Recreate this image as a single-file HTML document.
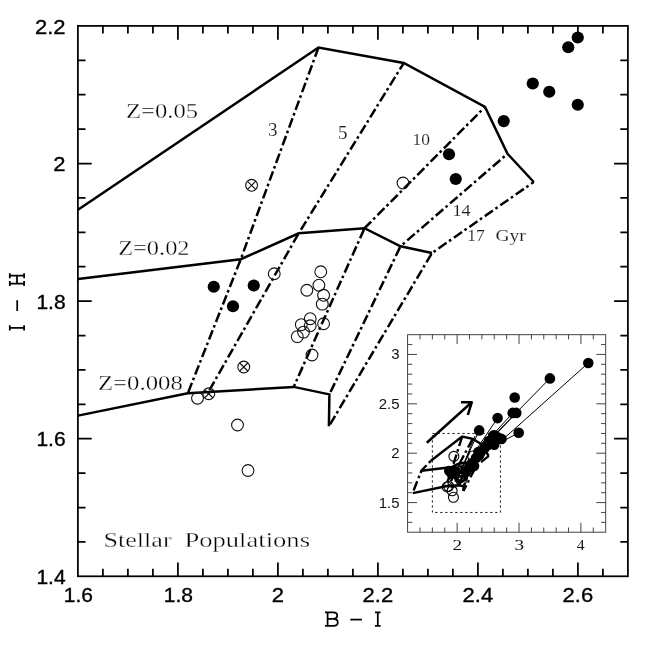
<!DOCTYPE html>
<html><head><meta charset="utf-8"><title>Stellar Populations</title>
<style>
html,body{margin:0;padding:0;background:#fff;}
body{width:664px;height:657px;overflow:hidden;font-family:"Liberation Sans",sans-serif;}
svg{display:block;filter:grayscale(1);}
.tl{font-family:"Liberation Sans",sans-serif;font-size:20px;fill:#000;stroke:#000;stroke-width:0.35px;}
.sf{font-family:"Liberation Serif",serif;fill:#000;stroke:#fff;stroke-width:0.35px;}
.ss{font-family:"Liberation Serif",serif;fill:#1c1c1c;stroke:#fff;stroke-width:0.12px;}
.il{font-family:"Liberation Serif",serif;fill:#111;font-size:14.5px;}
.is{font-family:"Liberation Sans",sans-serif;fill:#111;font-size:14px;}
</style></head><body>
<svg width="664" height="657" viewBox="0 0 664 657">
<rect x="0" y="0" width="664" height="657" fill="#fff"/>

<g stroke="#000" stroke-width="1.75" fill="none" stroke-linecap="butt">
<rect x="77.9" y="25.9" width="550" height="550.4"/>
<path d="M102.90 25.90v7.60M102.90 576.30v-7.60M127.90 25.90v7.60M127.90 576.30v-7.60M152.90 25.90v7.60M152.90 576.30v-7.60M177.90 25.90v13.80M177.90 576.30v-13.80M202.90 25.90v7.60M202.90 576.30v-7.60M227.90 25.90v7.60M227.90 576.30v-7.60M252.90 25.90v7.60M252.90 576.30v-7.60M277.90 25.90v13.80M277.90 576.30v-13.80M302.90 25.90v7.60M302.90 576.30v-7.60M327.90 25.90v7.60M327.90 576.30v-7.60M352.90 25.90v7.60M352.90 576.30v-7.60M377.90 25.90v13.80M377.90 576.30v-13.80M402.90 25.90v7.60M402.90 576.30v-7.60M427.90 25.90v7.60M427.90 576.30v-7.60M452.90 25.90v7.60M452.90 576.30v-7.60M477.90 25.90v13.80M477.90 576.30v-13.80M502.90 25.90v7.60M502.90 576.30v-7.60M527.90 25.90v7.60M527.90 576.30v-7.60M552.90 25.90v7.60M552.90 576.30v-7.60M577.90 25.90v13.80M577.90 576.30v-13.80M602.90 25.90v7.60M602.90 576.30v-7.60M77.90 541.90h7.60M627.90 541.90h-7.60M77.90 507.50h7.60M627.90 507.50h-7.60M77.90 473.10h7.60M627.90 473.10h-7.60M77.90 438.70h13.80M627.90 438.70h-13.80M77.90 404.30h7.60M627.90 404.30h-7.60M77.90 369.90h7.60M627.90 369.90h-7.60M77.90 335.50h7.60M627.90 335.50h-7.60M77.90 301.10h13.80M627.90 301.10h-13.80M77.90 266.70h7.60M627.90 266.70h-7.60M77.90 232.30h7.60M627.90 232.30h-7.60M77.90 197.90h7.60M627.90 197.90h-7.60M77.90 163.50h13.80M627.90 163.50h-13.80M77.90 129.10h7.60M627.90 129.10h-7.60M77.90 94.70h7.60M627.90 94.70h-7.60M77.90 60.30h7.60M627.90 60.30h-7.60"/>
</g>
<g class="tl" text-anchor="middle">
<text transform="translate(78.4 601.5) scale(1.05 1)">1.6</text>
<text transform="translate(178.4 601.5) scale(1.05 1)">1.8</text>
<text transform="translate(277.9 601.5) scale(1.1 1)">2</text>
<text transform="translate(377.9 601.5) scale(1.1 1)">2.2</text>
<text transform="translate(477.9 601.5) scale(1.1 1)">2.4</text>
<text transform="translate(577.9 601.5) scale(1.1 1)">2.6</text>
</g><g class="tl" text-anchor="end">
<text transform="translate(65.6 584.0) scale(1.05 1)">1.4</text>
<text transform="translate(65.6 446.4) scale(1.05 1)">1.6</text>
<text transform="translate(65.6 308.8) scale(1.05 1)">1.8</text>
<text transform="translate(65.6 171.2) scale(1.1 1)">2</text>
<text transform="translate(65.6 33.6) scale(1.1 1)">2.2</text>
</g>
<g stroke="#000" stroke-width="1.75" fill="none" stroke-linecap="butt" stroke-linejoin="round">
<path d="M325 612.4h8.2c2.6 0 4 1.4 4 3.2c0 1.9 -1.5 3.3 -4 3.3h-5.6M333.2 618.9c3 0 4.6 1.5 4.6 3.5c0 2 -1.6 3.4 -4.6 3.4h-8.2M327.6 612.4v13.4"/>
<path d="M350.3 619.6h11.6"/>
<path d="M375 612.4h5.6M375 625.8h5.6M377.8 612.4v13.4"/>
<path d="M9.8 325.2v5.2M24.1 325.2v5.2M9.8 327.8h14.3"/>
<path d="M17.2 300.2v10.8"/>
<path d="M9.8 273.2v5M24.1 273.2v5M9.8 281v5M24.1 281v5M9.8 275.7h14.3M9.8 283.5h14.3M17 275.7v7.8"/>
</g>
<!-- main data -->
<g fill="none" stroke="#000" stroke-width="2.5" stroke-linejoin="miter" stroke-linecap="butt">
<polyline points="78.00,209.80 318.50,47.50 403.75,63.00 485.00,107.00 507.50,153.75 533.75,182.00"/>
<polyline points="78.00,279.10 240.75,259.25 298.75,233.25 364.50,228.25 400.50,246.25 432.00,253.00"/>
<polyline points="78.00,415.60 187.80,393.30 293.70,386.90 329.40,394.40 328.90,426.30"/>
</g>
<g fill="none" stroke="#000" stroke-width="2.5" stroke-dasharray="9.9 3.35 2.6 3.0">
<line x1="318.50" y1="47.50" x2="240.75" y2="259.25" stroke-dashoffset="0.00"/>
<line x1="240.75" y1="259.25" x2="187.80" y2="393.30" stroke-dashoffset="17.85"/>
<line x1="403.75" y1="63.00" x2="298.75" y2="233.25" stroke-dashoffset="2.50"/>
<line x1="298.75" y1="233.25" x2="207.50" y2="393.50" stroke-dashoffset="17.85"/>
<line x1="485.00" y1="107.00" x2="364.50" y2="228.25" stroke-dashoffset="8.15"/>
<line x1="364.50" y1="228.25" x2="293.70" y2="386.90" stroke-dashoffset="17.85"/>
<line x1="507.50" y1="153.75" x2="400.50" y2="246.25" stroke-dashoffset="9.35"/>
<line x1="400.50" y1="246.25" x2="329.40" y2="394.40" stroke-dashoffset="17.85"/>
<line x1="533.75" y1="182.00" x2="432.00" y2="253.00" stroke-dashoffset="6.80"/>
<line x1="432.00" y1="253.00" x2="328.90" y2="426.30" stroke-dashoffset="17.85"/>
</g>
<g fill="#000" stroke="none">
<circle cx="577.75" cy="37.50" r="6.1"/>
<circle cx="568.25" cy="47.25" r="6.1"/>
<circle cx="532.75" cy="83.50" r="6.1"/>
<circle cx="549.25" cy="91.75" r="6.1"/>
<circle cx="577.75" cy="104.75" r="6.1"/>
<circle cx="503.75" cy="121.10" r="6.1"/>
<circle cx="449.00" cy="154.25" r="6.1"/>
<circle cx="455.75" cy="179.00" r="6.1"/>
<circle cx="213.75" cy="286.75" r="6.1"/>
<circle cx="253.75" cy="285.50" r="6.1"/>
<circle cx="233.00" cy="306.25" r="6.1"/>
</g>
<g fill="none" stroke="#111" stroke-width="1.1">
<circle cx="403.00" cy="183.00" r="5.9"/>
<circle cx="274.25" cy="273.75" r="5.9"/>
<circle cx="320.75" cy="271.80" r="5.9"/>
<circle cx="318.90" cy="285.20" r="5.9"/>
<circle cx="306.85" cy="290.25" r="5.9"/>
<circle cx="323.60" cy="295.30" r="5.9"/>
<circle cx="322.30" cy="304.15" r="5.9"/>
<circle cx="310.20" cy="318.70" r="5.9"/>
<circle cx="323.60" cy="323.75" r="5.9"/>
<circle cx="301.30" cy="324.60" r="5.9"/>
<circle cx="310.20" cy="325.80" r="5.9"/>
<circle cx="303.50" cy="332.10" r="5.9"/>
<circle cx="297.30" cy="336.65" r="5.9"/>
<circle cx="312.00" cy="355.00" r="5.9"/>
<circle cx="197.50" cy="398.25" r="5.9"/>
<circle cx="237.50" cy="425.00" r="5.9"/>
<circle cx="248.00" cy="470.50" r="5.9"/>
<circle cx="251.60" cy="185.30" r="5.9"/>
<circle cx="243.75" cy="367.00" r="5.9"/>
<circle cx="208.75" cy="393.75" r="5.9"/>
<path d="M247.35 181.05l8.50 8.50M247.35 189.55l8.50 -8.50M239.50 362.75l8.50 8.50M239.50 371.25l8.50 -8.50M204.50 389.50l8.50 8.50M204.50 398.00l8.50 -8.50"/>
</g>
<text class="sf" x="126.0" y="118.2" font-size="21.4" textLength="72.2" lengthAdjust="spacingAndGlyphs">Z=0.05</text>
<text class="sf" x="118.2" y="255.2" font-size="21.4" textLength="71.4" lengthAdjust="spacingAndGlyphs">Z=0.02</text>
<text class="sf" x="98.0" y="390.2" font-size="21.4" textLength="84.8" lengthAdjust="spacingAndGlyphs">Z=0.008</text>
<text class="ss" x="268.0" y="136.3" font-size="18.5" textLength="9.5" lengthAdjust="spacingAndGlyphs">3</text>
<text class="ss" x="338.0" y="139.0" font-size="18.5" textLength="9.5" lengthAdjust="spacingAndGlyphs">5</text>
<text class="ss" x="412.6" y="144.8" font-size="17.4" textLength="17.4" lengthAdjust="spacingAndGlyphs">10</text>
<text class="ss" x="452.4" y="216.2" font-size="17.5" textLength="18.2" lengthAdjust="spacingAndGlyphs">14</text>
<text class="ss" x="467.3" y="240.6" font-size="17.5" textLength="17.4" lengthAdjust="spacingAndGlyphs">17</text>
<text class="ss" x="495.4" y="240.6" font-size="17.5" textLength="30.4" lengthAdjust="spacingAndGlyphs">Gyr</text>
<text class="sf" x="103.5" y="547.0" font-size="21.4" textLength="68.1" lengthAdjust="spacingAndGlyphs">Stellar</text>
<text class="sf" x="184.4" y="547.0" font-size="21.4" textLength="125.6" lengthAdjust="spacingAndGlyphs">Populations</text>
<!-- inset -->
<g stroke="#3a3a3a" stroke-width="0.95" fill="none">
<rect x="407.6" y="334.7" width="198.1" height="197.5"/>
<path d="M419.98 334.70v4.70M419.98 532.20v-4.70M432.36 334.70v4.70M432.36 532.20v-4.70M444.74 334.70v4.70M444.74 532.20v-4.70M457.12 334.70v9.40M457.12 532.20v-9.40M469.50 334.70v4.70M469.50 532.20v-4.70M481.88 334.70v4.70M481.88 532.20v-4.70M494.26 334.70v4.70M494.26 532.20v-4.70M506.64 334.70v4.70M506.64 532.20v-4.70M519.02 334.70v9.40M519.02 532.20v-9.40M531.40 334.70v4.70M531.40 532.20v-4.70M543.78 334.70v4.70M543.78 532.20v-4.70M556.16 334.70v4.70M556.16 532.20v-4.70M568.54 334.70v4.70M568.54 532.20v-4.70M580.92 334.70v9.40M580.92 532.20v-9.40M593.30 334.70v4.70M593.30 532.20v-4.70M407.60 522.33h4.70M605.70 522.33h-4.70M407.60 512.45h4.70M605.70 512.45h-4.70M407.60 502.58h9.40M605.70 502.58h-9.40M407.60 492.70h4.70M605.70 492.70h-4.70M407.60 482.83h4.70M605.70 482.83h-4.70M407.60 472.95h4.70M605.70 472.95h-4.70M407.60 463.08h4.70M605.70 463.08h-4.70M407.60 453.20h9.40M605.70 453.20h-9.40M407.60 443.32h4.70M605.70 443.32h-4.70M407.60 433.45h4.70M605.70 433.45h-4.70M407.60 423.58h4.70M605.70 423.58h-4.70M407.60 413.70h4.70M605.70 413.70h-4.70M407.60 403.82h9.40M605.70 403.82h-9.40M407.60 393.95h4.70M605.70 393.95h-4.70M407.60 384.07h4.70M605.70 384.07h-4.70M407.60 374.20h4.70M605.70 374.20h-4.70M407.60 364.32h4.70M605.70 364.32h-4.70M407.60 354.45h9.40M605.70 354.45h-9.40M407.60 344.57h4.70M605.70 344.57h-4.70"/>
</g>
<g class="il" text-anchor="middle">
<text transform="translate(457.3 550) scale(1.32 1)">2</text>
<text transform="translate(519.2 550) scale(1.32 1)">3</text>
<text transform="translate(580.6 550) scale(1.08 1)">4</text>
</g><g class="is" text-anchor="end">
<text transform="translate(399.6 507.6) scale(1.07 1)">1.5</text>
<text transform="translate(399.6 458.2) scale(1.07 1)">2</text>
<text transform="translate(399.6 408.8) scale(1.07 1)">2.5</text>
<text transform="translate(399.6 359.4) scale(1.07 1)">3</text>
</g>
<rect x="432.36" y="433.45" width="68.09" height="79.00" fill="none" stroke="#1a1a1a" stroke-width="0.95" stroke-dasharray="2.4 2.6"/>
<g fill="none" stroke="#000" stroke-width="2.4" stroke-linejoin="miter">
<polyline points="430.60,461.00 462.15,436.55 472.70,438.78 482.76,445.10 485.54,451.81 488.79,455.87"/>
<polyline points="421.40,470.70 452.52,466.97 459.70,463.23 467.84,462.51 472.30,465.10 476.20,466.07"/>
<polyline points="412.90,493.20 445.97,486.22 459.08,485.30 463.50,486.38 463.43,490.96"/>
</g>
<g fill="none" stroke="#000" stroke-width="2.4" stroke-dasharray="9.9 3.35 2.6 3.0">
<polyline points="413.60,490.50 421.40,470.70 430.60,461.00"/>
<polyline points="462.15,436.55 452.52,466.97 445.97,486.22"/>
<polyline points="472.70,438.78 459.70,463.23 448.40,486.25"/>
<polyline points="482.76,445.10 467.84,462.51 459.08,485.30"/>
<polyline points="485.54,451.81 472.30,465.10 463.50,486.38"/>
<polyline points="488.79,455.87 476.20,466.07 463.43,490.96"/>
</g>
<g stroke="#000" stroke-width="1" fill="none">
<line x1="588.3" y1="363.0" x2="494.4" y2="447.0"/>
<line x1="549.9" y1="378.4" x2="489.0" y2="440.5"/>
<line x1="512.7" y1="412.9" x2="490.0" y2="438.0"/>
<line x1="497.6" y1="418.1" x2="476.0" y2="450.0"/>
<line x1="479.2" y1="430.4" x2="461.0" y2="470.0"/>
<line x1="518.7" y1="432.8" x2="490.0" y2="448.0"/>
<line x1="516.3" y1="412.9" x2="484.0" y2="447.0"/>
<line x1="475.0" y1="436.0" x2="458.0" y2="478.0"/>
<line x1="470.0" y1="452.0" x2="455.0" y2="482.0"/>
</g>
<g fill="#000">
<circle cx="494.24" cy="435.12" r="5.2"/>
<circle cx="493.07" cy="436.52" r="5.2"/>
<circle cx="488.67" cy="441.72" r="5.2"/>
<circle cx="490.71" cy="442.91" r="5.2"/>
<circle cx="494.24" cy="444.78" r="5.2"/>
<circle cx="485.08" cy="447.12" r="5.2"/>
<circle cx="478.30" cy="451.89" r="5.2"/>
<circle cx="479.14" cy="455.44" r="5.2"/>
<circle cx="449.18" cy="470.92" r="5.2"/>
<circle cx="454.13" cy="470.74" r="5.2"/>
<circle cx="451.56" cy="473.72" r="5.2"/>
<circle cx="588.30" cy="363.00" r="5.3"/>
<circle cx="549.90" cy="378.40" r="5.3"/>
<circle cx="514.70" cy="397.50" r="5.3"/>
<circle cx="512.70" cy="412.90" r="5.3"/>
<circle cx="516.30" cy="412.90" r="5.3"/>
<circle cx="497.60" cy="418.10" r="5.3"/>
<circle cx="479.20" cy="430.40" r="5.3"/>
<circle cx="518.70" cy="432.80" r="5.3"/>
<circle cx="493.60" cy="435.50" r="5.3"/>
<circle cx="501.50" cy="438.90" r="5.3"/>
<circle cx="494.50" cy="442.30" r="5.3"/>
<circle cx="489.00" cy="441.00" r="5.3"/>
<circle cx="486.00" cy="446.00" r="5.3"/>
<circle cx="469.00" cy="468.00" r="5.3"/>
<circle cx="472.00" cy="463.00" r="5.3"/>
<circle cx="476.00" cy="458.00" r="5.3"/>
<circle cx="480.00" cy="453.00" r="5.3"/>
<circle cx="484.00" cy="449.00" r="5.3"/>
<circle cx="488.00" cy="445.00" r="5.3"/>
<circle cx="492.00" cy="440.00" r="5.3"/>
<circle cx="497.00" cy="437.00" r="5.3"/>
<circle cx="474.00" cy="466.00" r="5.3"/>
<circle cx="466.00" cy="472.00" r="5.3"/>
</g>
<g fill="none" stroke="#000" stroke-width="1.1">
<circle cx="472.61" cy="456.02" r="5"/>
<circle cx="456.67" cy="469.05" r="5"/>
<circle cx="462.42" cy="468.77" r="5"/>
<circle cx="462.20" cy="470.69" r="5"/>
<circle cx="460.70" cy="471.42" r="5"/>
<circle cx="462.78" cy="472.15" r="5"/>
<circle cx="462.62" cy="473.42" r="5"/>
<circle cx="461.12" cy="475.51" r="5"/>
<circle cx="462.78" cy="476.23" r="5"/>
<circle cx="460.02" cy="476.35" r="5"/>
<circle cx="461.12" cy="476.53" r="5"/>
<circle cx="460.29" cy="477.43" r="5"/>
<circle cx="459.52" cy="478.08" r="5"/>
<circle cx="461.34" cy="480.72" r="5"/>
<circle cx="447.17" cy="486.93" r="5"/>
<circle cx="452.12" cy="490.78" r="5"/>
<circle cx="453.42" cy="497.31" r="5"/>
<circle cx="453.86" cy="456.35" r="5"/>
<circle cx="452.89" cy="482.44" r="5"/>
<circle cx="448.56" cy="486.29" r="5"/>
</g>
<path d="M426.8 442.7L472 402M461 402.2H472.6M472 401.6L467.8 415" fill="none" stroke="#000" stroke-width="2.5"/>
</svg></body></html>
